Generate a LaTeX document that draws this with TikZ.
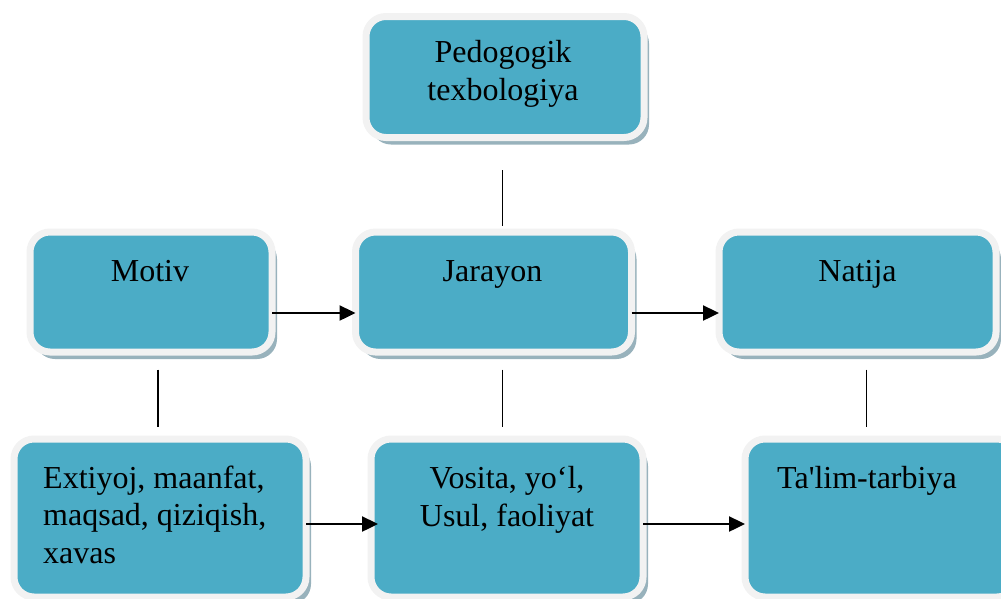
\documentclass[tikz,border=0pt]{standalone}
\usepackage{fontspec}
\setmainfont{Liberation Serif}
\usetikzlibrary{arrows.meta,shadows}
\definecolor{teal1}{HTML}{4BACC6}
\definecolor{rim}{HTML}{F2F2F2}
\definecolor{shade}{HTML}{98B2BC}
\tikzset{
  box/.style={draw=rim, fill=teal1, line width=7pt, rounded corners=20pt,
    inner sep=0pt, outer sep=0pt,
    drop shadow={shadow xshift=5pt, shadow yshift=-7pt, fill=shade, opacity=1}},
  txt/.style={inner sep=0pt, font=\fontsize{32}{37.5}\selectfont},
  arr/.style={line width=2.4pt, -{Triangle[length=16pt,width=15pt]}},
  conn/.style={line width=1.8pt}
}
\begin{document}
\begin{tikzpicture}[x=1pt,y=-1pt]
\useasboundingbox (0,0) rectangle (1001,598);
\clip (0,0) rectangle (1001,598);
% boxes
\node[box, minimum width=278pt, minimum height=121pt] (ped) at (505,77) {};
\node[box, minimum width=242pt, minimum height=120pt] (motiv) at (151,292) {};
\node[box, minimum width=276pt, minimum height=120pt] (jarayon) at (493.5,292) {};
\node[box, minimum width=277pt, minimum height=120pt] (natija) at (857.5,292) {};
\node[box, minimum width=292pt, minimum height=158pt] (ehtiyoj) at (160,518) {};
\node[box, minimum width=272pt, minimum height=158pt] (vosita) at (507,518) {};
\node[box, minimum width=272pt, minimum height=158pt] (talim) at (881,518) {};
% texts
\node[txt, align=center, anchor=base] (pedt) at (503,100) {Pedogogik\\texbologiya};
\node[txt, anchor=base] (motivt) at (150,281) {Motiv};
\node[txt, anchor=base] (jarayont) at (492.5,281) {Jarayon};
\node[txt, anchor=base] (natijat) at (857.5,281) {Natija};
\node[txt, align=left, anchor=base west] (ehtiyojt) at (43,563) {Extiyoj, maanfat,\\maqsad, qiziqish,\\xavas};
\node[txt, align=center, anchor=base] (vositat) at (507,526) {Vosita, yo‘l,\\Usul, faoliyat};
\node[txt, anchor=base west] (talimt) at (777,488) {Ta\textquotesingle lim-tarbiya};
% helper x positions
\coordinate (xa) at (502.5,0);
\coordinate (xb) at (158,0);
\coordinate (xc) at (866.5,0);
% vertical connectors
\draw[conn, shorten <=32.5pt, shorten >=6pt] (ped.south -| xa) -- (jarayon.north -| xa);
\draw[conn, shorten <=17.5pt, shorten >=12pt] (motiv.south -| xb) -- (ehtiyoj.north -| xb);
\draw[conn, shorten <=17.5pt, shorten >=12pt] (jarayon.south -| xa) -- (vosita.north -| xa);
\draw[conn, shorten <=17.5pt, shorten >=12pt] (natija.south -| xc) -- (talim.north -| xc);
% arrows
\draw[arr] ([yshift=-21pt]motiv.east) -- ([yshift=-21pt]jarayon.west);
\draw[arr] ([yshift=-21pt]jarayon.east) -- ([yshift=-21pt]natija.west);
\draw[arr, shorten >=-7pt] ([yshift=-6pt]ehtiyoj.east) -- ([yshift=-6pt]vosita.west);
\draw[arr] ([yshift=-6pt]vosita.east) -- ([yshift=-6pt]talim.west);
\end{tikzpicture}
\end{document}
